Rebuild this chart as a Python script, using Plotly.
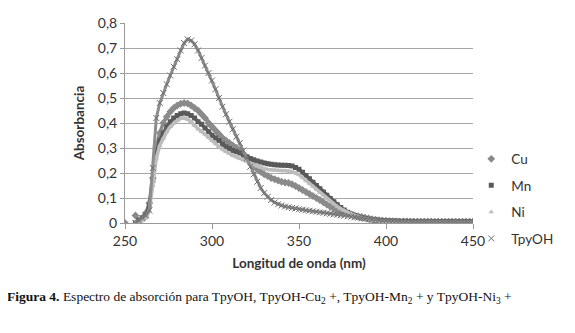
import plotly.graph_objects as go

wavelength = list(range(256, 451, 2))

cu = [0.03, 0.01, 0.02, 0.04, 0.08, 0.18, 0.30, 0.36, 0.40, 0.425,
      0.445, 0.46, 0.47, 0.477, 0.48, 0.478, 0.47, 0.46, 0.45, 0.435,
      0.42, 0.40, 0.385, 0.37, 0.355, 0.34, 0.33, 0.32, 0.31, 0.30,
      0.29, 0.275, 0.26, 0.245, 0.23, 0.215, 0.205, 0.195, 0.188, 0.18,
      0.175, 0.17, 0.165, 0.162, 0.16, 0.155, 0.148, 0.14, 0.132, 0.124,
      0.116, 0.108, 0.10, 0.092, 0.083, 0.074, 0.065, 0.058, 0.052, 0.046,
      0.042, 0.038, 0.034, 0.030, 0.027, 0.024, 0.021, 0.018, 0.015, 0.013,
      0.011, 0.009, 0.008, 0.007, 0.007, 0.006, 0.006, 0.006, 0.006, 0.005,
      0.005, 0.005, 0.005, 0.005, 0.005, 0.005, 0.004, 0.004, 0.004, 0.004,
      0.004, 0.004, 0.004, 0.004, 0.004, 0.004, 0.004, 0.004]
cu_start_x = [250]
cu_start_y = [0.0]

mn = [0.00, 0.01, 0.02, 0.03, 0.07, 0.17, 0.28, 0.33, 0.36, 0.385,
      0.405, 0.42, 0.43, 0.437, 0.44, 0.437, 0.43, 0.42, 0.405, 0.395,
      0.38, 0.365, 0.35, 0.34, 0.33, 0.315, 0.305, 0.298, 0.29, 0.285,
      0.28, 0.273, 0.265, 0.258, 0.253, 0.248, 0.244, 0.24, 0.237, 0.235,
      0.233, 0.232, 0.231, 0.231, 0.23, 0.228, 0.222, 0.215, 0.203, 0.19,
      0.177, 0.163, 0.15, 0.137, 0.124, 0.111, 0.098, 0.085, 0.073, 0.062,
      0.052, 0.043, 0.036, 0.030, 0.025, 0.021, 0.018, 0.015, 0.013, 0.011,
      0.010, 0.009, 0.008, 0.007, 0.007, 0.007, 0.006, 0.006, 0.006, 0.006,
      0.006, 0.005, 0.005, 0.005, 0.005, 0.005, 0.005, 0.005, 0.005, 0.005,
      0.005, 0.005, 0.005, 0.005, 0.005, 0.005, 0.005, 0.005]

ni = [0.00, 0.00, 0.01, 0.02, 0.05, 0.15, 0.26, 0.31, 0.34, 0.365,
      0.385, 0.40, 0.41, 0.418, 0.42, 0.415, 0.405, 0.39, 0.375, 0.365,
      0.355, 0.342, 0.33, 0.318, 0.305, 0.295, 0.285, 0.278, 0.27, 0.264,
      0.258, 0.252, 0.245, 0.238, 0.232, 0.226, 0.221, 0.217, 0.214, 0.212,
      0.21, 0.21, 0.209, 0.209, 0.208, 0.205, 0.20, 0.193, 0.182, 0.17,
      0.158, 0.146, 0.134, 0.122, 0.11, 0.098, 0.087, 0.076, 0.066, 0.057,
      0.049, 0.042, 0.036, 0.030, 0.025, 0.021, 0.017, 0.014, 0.011, 0.009,
      0.007, 0.006, 0.005, 0.004, 0.004, 0.004, 0.003, 0.003, 0.003, 0.003,
      0.003, 0.003, 0.003, 0.003, 0.003, 0.003, 0.003, 0.003, 0.003, 0.003,
      0.003, 0.003, 0.003, 0.003, 0.003, 0.003, 0.003, 0.003]

tpyoh = [0.00, 0.01, 0.02, 0.03, 0.05, 0.22, 0.42, 0.48, 0.52, 0.555,
         0.59, 0.625, 0.655, 0.69, 0.72, 0.735, 0.73, 0.715, 0.69, 0.66,
         0.63, 0.60, 0.57, 0.535, 0.50, 0.465, 0.435, 0.405, 0.375, 0.345,
         0.32, 0.29, 0.26, 0.225, 0.195, 0.165, 0.14, 0.12, 0.105, 0.092,
         0.082, 0.075, 0.07, 0.066, 0.063, 0.06, 0.058, 0.055, 0.053, 0.051,
         0.049, 0.047, 0.045, 0.043, 0.041, 0.039, 0.037, 0.035, 0.033, 0.031,
         0.029, 0.027, 0.025, 0.023, 0.021, 0.019, 0.017, 0.015, 0.013, 0.012,
         0.011, 0.010, 0.009, 0.008, 0.008, 0.008, 0.007, 0.007, 0.007, 0.007,
         0.006, 0.006, 0.006, 0.006, 0.006, 0.006, 0.006, 0.006, 0.006, 0.006,
         0.006, 0.006, 0.006, 0.006, 0.006, 0.006, 0.006, 0.006]

y_ticks = [0, 0.1, 0.2, 0.3, 0.4, 0.5, 0.6, 0.7, 0.8]
y_ticktext = ["0", "0,1", "0,2", "0,3", "0,4", "0,5", "0,6", "0,7", "0,8"]
x_ticks = [250, 300, 350, 400, 450]

FONT = "Lato"
fig = go.Figure()

series = [
    ("Cu", cu, "diamond", "#8a8a8a", 6, 3.5),
    ("Mn", mn, "square", "#5a5a5a", 5, 3.5),
    ("Ni", ni, "triangle-up", "#bdbdbd", 5, 3.5),
    ("TpyOH", tpyoh, "x-thin", "#8c8c8c", 6, 3),
]
# thick bands formed by the dense markers
for name, ys, sym, col, sz, lw in series:
    fig.add_trace(go.Scatter(
        x=wavelength, y=ys, mode="lines", legendgroup=name, showlegend=False,
        line=dict(color=col, width=lw), hoverinfo="skip",
    ))
    if name == "Cu":
        fig.add_trace(go.Scatter(
            x=cu_start_x, y=cu_start_y, mode="markers", legendgroup=name,
            showlegend=False,
            marker=dict(symbol=sym, color=col, size=sz, line=dict(width=0)),
        ))
    if sym == "x-thin":
        mk = dict(symbol=sym, size=sz, color="#6e6e6e",
                  line=dict(width=1, color="#6e6e6e"))
    else:
        mk = dict(symbol=sym, color=col, size=sz, line=dict(width=0))
    fig.add_trace(go.Scatter(
        x=wavelength, y=ys, mode="markers", name=name, legendgroup=name,
        marker=mk,
    ))

fig.update_layout(
    width=567, height=325,
    margin=dict(l=117, r=102, t=6, b=110),
    paper_bgcolor="white", plot_bgcolor="white",
    font=dict(family=FONT, size=14, color="#333333"),
    showlegend=True,
    legend=dict(x=0.995, y=0.12, xanchor="left", yanchor="middle",
                font=dict(family=FONT, size=13.5, color="#333333"),
                itemwidth=30, tracegroupgap=6, traceorder="grouped",
                bgcolor="rgba(0,0,0,0)"),
    xaxis=dict(range=[250, 450], tickvals=x_ticks, showgrid=False,
               showline=True, linecolor="#999999", linewidth=1,
               ticks="outside", ticklen=5, tickcolor="#999999",
               zeroline=False, tickfont=dict(size=14),
               title=dict(text="<b>Longitud de onda (nm)</b>",
                          font=dict(family=FONT, size=13.5, color="#333333"),
                          standoff=10)),
    yaxis=dict(range=[0, 0.8], tickvals=y_ticks, ticktext=y_ticktext,
               showgrid=True, gridcolor="#a6a6a6", gridwidth=1,
               showline=True, linecolor="#999999", linewidth=1,
               ticks="outside", ticklen=4, tickcolor="#999999",
               zeroline=False, tickfont=dict(size=14),
               ticklabeloverflow="allow",
               title=dict(text="<b>Absorbancia</b>",
                          font=dict(family=FONT, size=13.5, color="#333333"),
                          standoff=10)),
)

fig.add_annotation(
    xref="paper", yref="paper", x=-0.345, y=-0.37,
    xanchor="left", yanchor="middle", showarrow=False,
    text="<b>Figura 4.</b> Espectro de absorción para TpyOH, TpyOH-Cu<sub>2</sub> +, "
         "TpyOH-Mn<sub>2</sub> + y TpyOH-Ni<sub>3</sub> +",
    font=dict(family="Liberation Serif", size=13.5, color="#111111"),
)

fig.write_html("out.html")
